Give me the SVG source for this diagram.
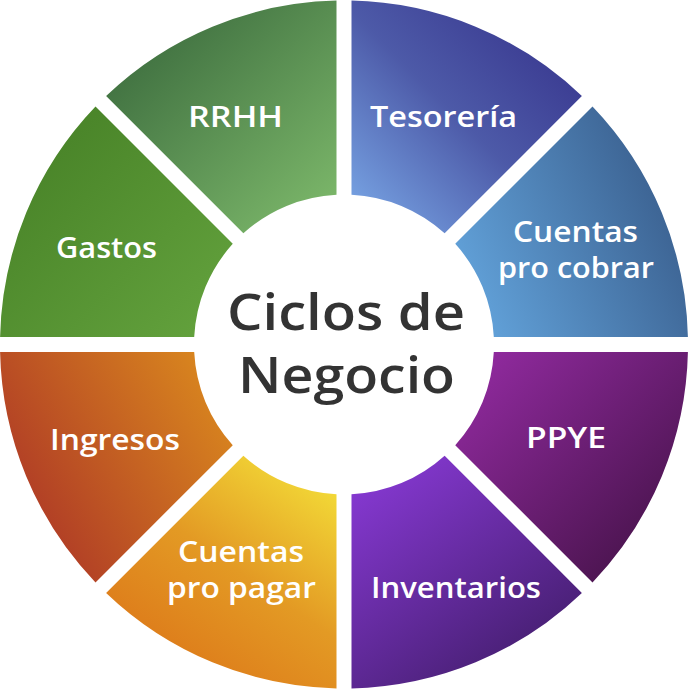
<svg xmlns="http://www.w3.org/2000/svg" width="688" height="689" viewBox="0 0 688 689">
<defs>
<linearGradient id="gTes" gradientUnits="userSpaceOnUse" x1="580" y1="20" x2="360" y2="240"><stop offset="0" stop-color="#35318a"/><stop offset="0.5" stop-color="#4d5aa8"/><stop offset="1" stop-color="#7cacea"/></linearGradient>
<linearGradient id="gCob" gradientUnits="userSpaceOnUse" x1="470" y1="320" x2="690" y2="220"><stop offset="0" stop-color="#63a4dc"/><stop offset="1" stop-color="#3a5f8e"/></linearGradient>
<linearGradient id="gPPYE" gradientUnits="userSpaceOnUse" x1="480" y1="360" x2="660" y2="540"><stop offset="0" stop-color="#902a9e"/><stop offset="1" stop-color="#4a144e"/></linearGradient>
<linearGradient id="gInv" gradientUnits="userSpaceOnUse" x1="360" y1="460" x2="520" y2="680"><stop offset="0" stop-color="#8a3ad8"/><stop offset="1" stop-color="#441e6e"/></linearGradient>
<linearGradient id="gPag" gradientUnits="userSpaceOnUse" x1="336" y1="465" x2="200" y2="660"><stop offset="0" stop-color="#f5e43a"/><stop offset="0.6" stop-color="#e39a24"/><stop offset="1" stop-color="#de801c"/></linearGradient>
<linearGradient id="gIng" gradientUnits="userSpaceOnUse" x1="230" y1="380" x2="20" y2="500"><stop offset="0" stop-color="#db8a1e"/><stop offset="1" stop-color="#b03c26"/></linearGradient>
<linearGradient id="gGas" gradientUnits="userSpaceOnUse" x1="100" y1="110" x2="330" y2="340"><stop offset="0" stop-color="#4b862a"/><stop offset="1" stop-color="#6cac44"/></linearGradient>
<linearGradient id="gRRHH" gradientUnits="userSpaceOnUse" x1="130" y1="30" x2="320" y2="240"><stop offset="0" stop-color="#3c6c3e"/><stop offset="1" stop-color="#7fbb6c"/></linearGradient>
</defs>
<style>
.lbl{font-family:"Open Sans","Noto Sans","Liberation Sans",sans-serif;font-weight:600;font-size:28px;fill:#ffffff;text-anchor:middle}
.ctr{font-family:"Open Sans","Noto Sans","Liberation Sans",sans-serif;font-weight:600;font-size:50px;fill:#333333;text-anchor:middle}
</style>
<g id="connectors"/>
<g id="tesoreria">
<path d="M351.5,0.58 A344,344 0 0 1 581.89,96 L444.63,233.26 A150,150 0 0 0 351.5,194.69 Z" fill="url(#gTes)"/>
<text class="lbl" x="443.5" y="127" textLength="147" lengthAdjust="spacingAndGlyphs">Tesorería</text>
</g>
<g id="cuentas-cobrar">
<path d="M592.5,106.61 A344,344 0 0 1 687.92,337 L493.81,337 A150,150 0 0 0 455.24,243.87 Z" fill="url(#gCob)"/>
<text class="lbl" x="575.5" y="242" textLength="125" lengthAdjust="spacingAndGlyphs">Cuentas</text>
<text class="lbl" x="576" y="278" textLength="156" lengthAdjust="spacingAndGlyphs">pro cobrar</text>
</g>
<g id="ppye">
<path d="M687.92,352 A344,344 0 0 1 592.5,582.39 L455.24,445.13 A150,150 0 0 0 493.81,352 Z" fill="url(#gPPYE)"/>
<text class="lbl" x="566" y="448" textLength="80" lengthAdjust="spacingAndGlyphs">PPYE</text>
</g>
<g id="inventarios">
<path d="M581.89,593 A344,344 0 0 1 351.5,688.42 L351.5,494.31 A150,150 0 0 0 444.63,455.74 Z" fill="url(#gInv)"/>
<text class="lbl" x="456" y="598" textLength="170" lengthAdjust="spacingAndGlyphs">Inventarios</text>
</g>
<g id="cuentas-pagar">
<path d="M336.5,688.42 A344,344 0 0 1 106.11,593 L243.37,455.74 A150,150 0 0 0 336.5,494.31 Z" fill="url(#gPag)"/>
<text class="lbl" x="241" y="562" textLength="126" lengthAdjust="spacingAndGlyphs">Cuentas</text>
<text class="lbl" x="241.5" y="598" textLength="149" lengthAdjust="spacingAndGlyphs">pro pagar</text>
</g>
<g id="ingresos">
<path d="M95.5,582.39 A344,344 0 0 1 0.08,352 L194.19,352 A150,150 0 0 0 232.76,445.13 Z" fill="url(#gIng)"/>
<text class="lbl" x="115" y="450" textLength="130" lengthAdjust="spacingAndGlyphs">Ingresos</text>
</g>
<g id="gastos">
<path d="M0.08,337 A344,344 0 0 1 95.5,106.61 L232.76,243.87 A150,150 0 0 0 194.19,337 Z" fill="url(#gGas)"/>
<text class="lbl" x="106.5" y="258" textLength="101" lengthAdjust="spacingAndGlyphs">Gastos</text>
</g>
<g id="rrhh">
<path d="M106.11,96 A344,344 0 0 1 336.5,0.58 L336.5,194.69 A150,150 0 0 0 243.37,233.26 Z" fill="url(#gRRHH)"/>
<text class="lbl" x="235.5" y="127" textLength="95" lengthAdjust="spacingAndGlyphs">RRHH</text>
</g>
<g id="centro">
<text class="ctr" x="346" y="330" textLength="238" lengthAdjust="spacingAndGlyphs">Ciclos de</text>
<text class="ctr" x="346.5" y="393" textLength="217" lengthAdjust="spacingAndGlyphs">Negocio</text>
</g>
</svg>
